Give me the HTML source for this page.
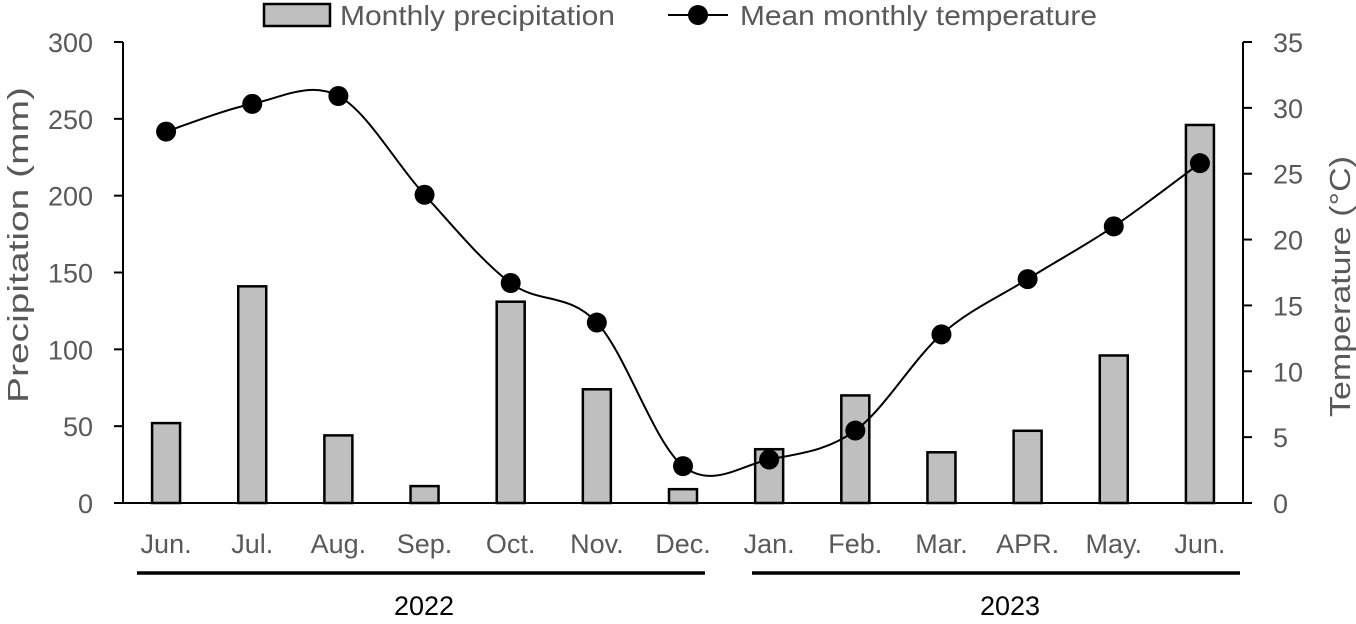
<!DOCTYPE html>
<html><head><meta charset="utf-8"><style>
body{margin:0;background:#fff;}
svg text{font-family:"Liberation Sans",sans-serif;fill:#595959;}
</style></head><body>
<svg id="chart" width="1356" height="619" xmlns="http://www.w3.org/2000/svg">
<g id="g"></g>
</svg>
<script>
const categories=["Jun.","Jul.","Aug.","Sep.","Oct.","Nov.","Dec.","Jan.","Feb.","Mar.","APR.","May.","Jun."];
const precipitation=[52,141,44,11,131,74,9,35,70,33,47,96,246];
const temperature=[28.2,30.3,30.9,23.4,16.7,13.7,2.8,3.3,5.5,12.8,17.0,21.0,25.8];
const leftTicks=[0,50,100,150,200,250,300];
const rightTicks=[0,5,10,15,20,25,30,35];
const years=["2022","2023"];

const NS="http://www.w3.org/2000/svg";
const g=document.getElementById('g');
const L=123,R=1243,T=42,B=503;
const step=(R-L)/categories.length;
const xc=i=>L+step*(i+0.5);
const yP=v=>B-(v/300)*(B-T);
const yT=v=>B-(v/35)*(B-T);
function mk(tag,attrs,txt){const e=document.createElementNS(NS,tag);for(const k in attrs)e.setAttribute(k,attrs[k]);if(txt!==undefined)e.textContent=txt;g.appendChild(e);return e;}

let e=mk('line',{x1:L,y1:T,x2:L,y2:B,stroke:'#000','stroke-width':2});

e=mk('line',{x1:R,y1:T,x2:R,y2:B,stroke:'#000','stroke-width':2});

e=mk('line',{x1:L,y1:B,x2:R,y2:B,stroke:'#000','stroke-width':2});


leftTicks.forEach(v=>{
  const y=yP(v);
  let t=mk('line',{x1:L-9,y1:y,x2:L,y2:y,stroke:'#000','stroke-width':2});
  
  t=mk('text',{x:L-30,y:y+10,'text-anchor':'end','font-size':27},v);
  
});
rightTicks.forEach(v=>{
  const y=yT(v);
  let t=mk('line',{x1:R,y1:y,x2:R+9,y2:y,stroke:'#000','stroke-width':2});
  
  t=mk('text',{x:R+30,y:y+10,'text-anchor':'start','font-size':27},v);
  
});

precipitation.forEach((v,i)=>{
  const b=mk('rect',{x:xc(i)-14,y:yP(v),width:28,height:B-yP(v),fill:'#bfbfbf',stroke:'#000','stroke-width':2.5});
  
  const t=mk('text',{x:xc(i),y:B+50,'text-anchor':'middle','font-size':27},categories[i]);
  
});

const pts=temperature.map((v,i)=>[xc(i),yT(v)]);
let d='M'+pts[0][0]+','+pts[0][1];
for(let i=0;i<pts.length-1;i++){
  const p0=pts[Math.max(0,i-1)],p1=pts[i],p2=pts[i+1],p3=pts[Math.min(pts.length-1,i+2)];
  const k=1/6;
  d+=' C'+(p1[0]+(p2[0]-p0[0])*k)+','+(p1[1]+(p2[1]-p0[1])*k)+' '+(p2[0]-(p3[0]-p1[0])*k)+','+(p2[1]-(p3[1]-p1[1])*k)+' '+p2[0]+','+p2[1];
}
e=mk('path',{d:d,fill:'none',stroke:'#000','stroke-width':2});

pts.forEach((p,i)=>{
  const c=mk('circle',{cx:p[0],cy:p[1],r:10,fill:'#000'});
  
});

e=mk('line',{x1:137,y1:573,x2:705,y2:573,stroke:'#000','stroke-width':3.5});

e=mk('line',{x1:752,y1:573,x2:1240,y2:573,stroke:'#000','stroke-width':3.5});

e=mk('text',{x:424,y:615,'text-anchor':'middle','font-size':27,style:'fill:#000'},years[0]);

e=mk('text',{x:1010,y:615,'text-anchor':'middle','font-size':27,style:'fill:#000'},years[1]);


e=mk('text',{x:-158,y:0,'font-size':29,textLength:316,lengthAdjust:'spacingAndGlyphs',transform:'translate(28,245) rotate(-90)'},'Precipitation (mm)');

e=mk('text',{x:-130,y:0,'font-size':29,textLength:261,lengthAdjust:'spacingAndGlyphs',transform:'translate(1350,287) rotate(-90)'},'Temperature (°C)');


e=mk('rect',{x:264,y:4,width:66,height:22,fill:'#bfbfbf',stroke:'#000','stroke-width':2.5});

e=mk('text',{x:340,y:25,'font-size':28,textLength:275,lengthAdjust:'spacingAndGlyphs'},'Monthly precipitation');

e=mk('line',{x1:668,y1:15,x2:728,y2:15,stroke:'#000','stroke-width':2});

e=mk('circle',{cx:698,cy:15,r:10,fill:'#000'});

e=mk('text',{x:740,y:25,'font-size':28,textLength:357,lengthAdjust:'spacingAndGlyphs'},'Mean monthly temperature');

</script>
</body></html>
